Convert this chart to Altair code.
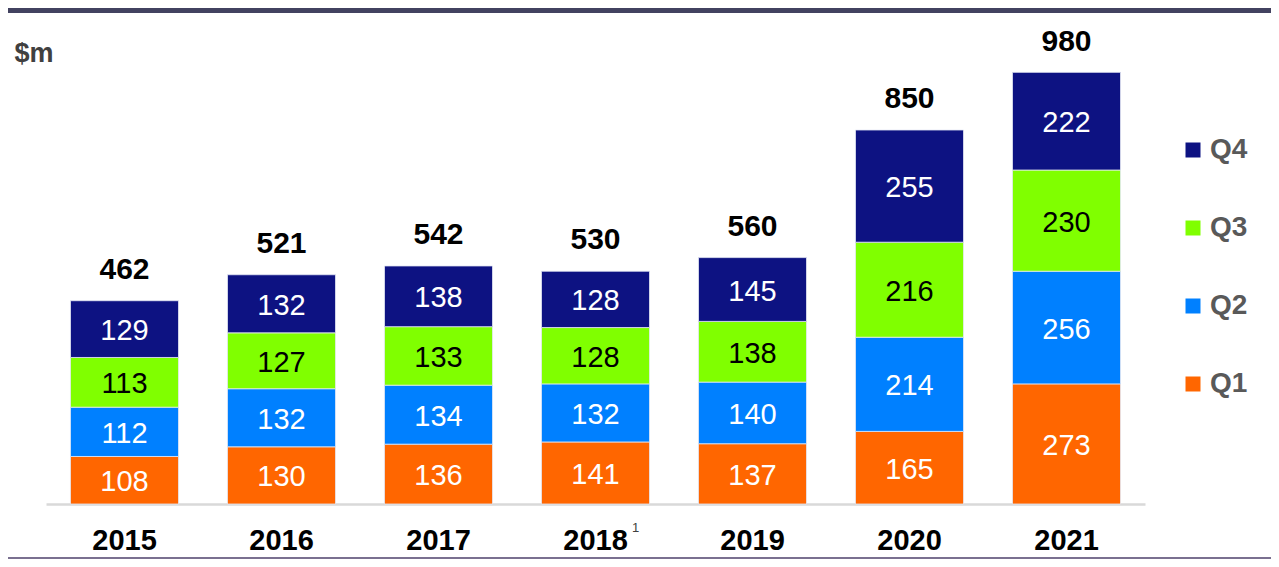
import altair as alt
import pandas as pd

years = ["2015", "2016", "2017", "2018", "2019", "2020", "2021"]
q1 = [108, 130, 136, 141, 137, 165, 273]
q2 = [112, 132, 134, 132, 140, 214, 256]
q3 = [113, 127, 133, 128, 138, 216, 230]
q4 = [129, 132, 138, 128, 145, 255, 222]
totals = [462, 521, 542, 530, 560, 850, 980]
quarters = ["Q1", "Q2", "Q3", "Q4"]
colors = {"Q4": "#0d1282", "Q3": "#80ff00", "Q2": "#0080ff", "Q1": "#ff6600"}

rows = []
for qi, (q, vals) in enumerate(zip(quarters, [q1, q2, q3, q4])):
    for y, v in zip(years, vals):
        rows.append({"year": y, "quarter": q, "qi": qi, "value": v})
df = pd.DataFrame(rows)
tot_df = pd.DataFrame({"year": years, "total": totals})
note_df = pd.DataFrame({"year": ["2018"], "note": ["1"], "v": [0]})

FONT = "Liberation Sans"
W, H = 1099, 484

xenc = alt.X(
    "year:N",
    sort=years,
    scale=alt.Scale(paddingInner=0.312, paddingOuter=0.156),
    axis=alt.Axis(
        title=None, ticks=False, labelAngle=0, labelFont=FONT, labelFontSize=29,
        labelFontWeight="bold", labelColor="#000000", labelPadding=22,
        domainColor="#d9d9d9", domainWidth=2.5, grid=False,
    ),
)
yscale = alt.Scale(domain=[0, 1100], nice=False)

dom_order = ["Q4", "Q3", "Q2", "Q1"]

bars = alt.Chart(df).mark_bar(stroke="#e4e8f4", strokeWidth=0.8).encode(
    x=xenc,
    y=alt.Y(
        "value:Q", stack="zero", scale=yscale,
        axis=alt.Axis(
            title="$m", labels=False, ticks=False, domain=False, grid=False,
            titleAngle=0, titleX=-32, titleY=33, titleAlign="left",
            titleBaseline="middle", titleFont=FONT, titleFontSize=27,
            titleFontWeight="bold", titleColor="#404040",
        ),
    ),
    color=alt.Color(
        "quarter:N",
        scale=alt.Scale(domain=dom_order, range=[colors[q] for q in dom_order]),
        legend=alt.Legend(
            title=None, orient="none", legendX=1133, legendY=116,
            symbolType="square", symbolSize=225, symbolStrokeWidth=0,
            labelFont=FONT, labelFontSize=28, labelFontWeight="bold",
            labelColor="#595959", labelOffset=3, rowPadding=50, padding=0,
        ),
    ),
    order=alt.Order("qi:Q", sort="ascending"),
)

seg_text = alt.Chart(df).transform_stack(
    stack="value", groupby=["year"], as_=["v0", "v1"],
    sort=[alt.SortField("qi", order="ascending")],
).transform_calculate(mid="(datum.v0 + datum.v1) / 2").mark_text(
    font=FONT, fontSize=29, baseline="middle", align="center", dy=2
).encode(
    x=alt.X("year:N", sort=years),
    y=alt.Y("mid:Q", scale=yscale),
    text=alt.Text("value:Q"),
    color=alt.condition(alt.datum.quarter == "Q3", alt.value("#000000"), alt.value("#ffffff")),
)

tot_text = alt.Chart(tot_df).mark_text(
    font=FONT, fontSize=30, fontWeight="bold", baseline="middle", align="center",
    dy=-31, color="#000000",
).encode(
    x=alt.X("year:N", sort=years),
    y=alt.Y("total:Q", scale=yscale),
    text="total:Q",
)

note = alt.Chart(note_df).mark_text(
    font=FONT, fontSize=13, color="#404040", dx=40, dy=24, baseline="middle"
).encode(
    x=alt.X("year:N", sort=years),
    y=alt.Y("v:Q", scale=yscale),
    text="note:N",
)

top_band = alt.Chart(pd.DataFrame({"a": [0]})).mark_rect(color="#424260").encode(
    x=alt.value(-38), x2=alt.value(W + 126), y=alt.value(-12), y2=alt.value(-7)
)
bottom_line = alt.Chart(pd.DataFrame({"a": [0]})).mark_rule(color="#7a7090", strokeWidth=2).encode(
    x=alt.value(-38), x2=alt.value(W + 126), y=alt.value(H + 54)
)

chart = alt.layer(bars, seg_text, tot_text, note, top_band, bottom_line).properties(
    width=W, height=H,
    autosize=alt.AutoSizeParams(type="none"),
    padding={"left": 38, "right": 126, "top": 12, "bottom": 55},
).configure_view(stroke=None)

chart.save("out.html", embed_options={"renderer": "svg", "actions": False})
